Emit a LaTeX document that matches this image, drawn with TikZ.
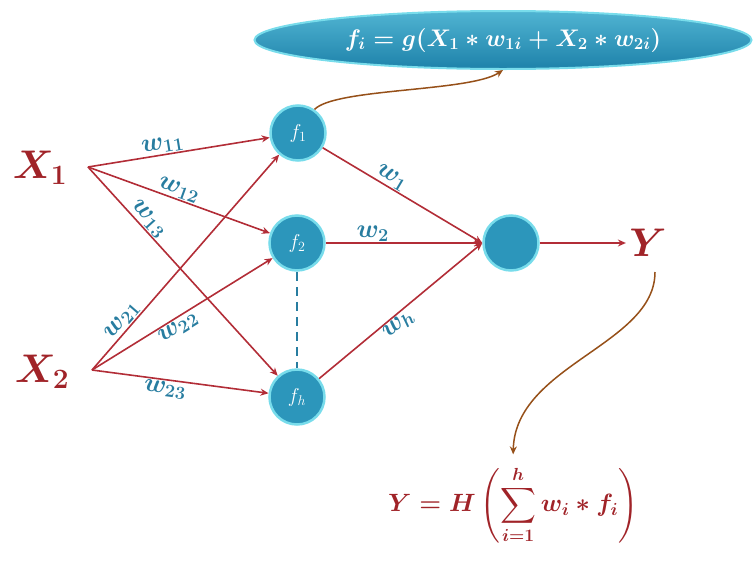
\RequirePackage{fix-cm}
\documentclass[tikz,border=0pt]{standalone}
\usepackage{amsmath}
\usepackage{bm}
\usetikzlibrary{shapes.geometric,arrows.meta}
\definecolor{dred}{RGB}{160,35,40}
\definecolor{lred}{RGB}{178,45,55}
\definecolor{tealc}{RGB}{44,150,187}
\definecolor{tealtop}{RGB}{80,180,210}
\definecolor{tealbot}{RGB}{30,130,170}
\definecolor{cyanb}{RGB}{120,220,235}
\definecolor{wtext}{RGB}{40,125,160}
\definecolor{brownc}{RGB}{150,80,25}
\begin{document}
\begin{tikzpicture}[x=1pt,y=-1pt,
  hid/.style={circle,minimum size=55pt,inner sep=0pt,fill=tealc,draw=cyanb,line width=2.5pt,text=white,font=\fontsize{20}{20}\selectfont},
  xin/.style={text=dred,font=\fontsize{40}{40}\selectfont\boldmath},
  conn/.style={draw=lred,line width=1.6pt,-{Stealth[length=8pt,width=7pt]}},
  wlab/.style={text=wtext,font=\fontsize{26}{26}\selectfont\boldmath,sloped,inner sep=1pt},
  bcurve/.style={draw=brownc,line width=1.5pt,-{Stealth[length=8pt,width=7pt]}}]
\useasboundingbox (0,0) rectangle (754,560);
% ellipse formula
\node[ellipse,minimum width=497pt,minimum height=58pt,top color=tealtop,bottom color=tealbot,draw=cyanb,line width=2pt,text=white,font=\fontsize{24}{24}\selectfont\boldmath] (ell) at (503,40) {$f_i = g(X_1 * w_{1i} + X_2 * w_{2i})$};
% inputs
\node[xin] (X1) at (40,168) {$X_1$};
\node[xin] (X2) at (42,372) {$X_2$};
\coordinate (x1p) at (88,167);
\coordinate (x2p) at (92,370);
% hidden
\node[hid] (f1) at (298,133) {$f_1$};
\node[hid] (f2) at (297,243) {$f_2$};
\node[hid] (fh) at (297,397) {$f_h$};
\node[hid] (out) at (511,243) {};
\node[xin] (Y) at (648,243) {$Y$};
% input connectors
\draw[conn] (x1p) -- node[wlab,above,pos=0.42] {$w_{11}$} (f1);
\draw[conn] (x1p) -- node[wlab,above,pos=0.48] {$w_{12}$} (f2);
\draw[conn] (x1p) -- node[wlab,above,pos=0.28] {$w_{13}$} (fh);
\draw[conn] (x2p) -- node[wlab,above,pos=0.2] {$w_{21}$} (f1);
\draw[conn] (x2p) -- node[wlab,below,pos=0.45] {$w_{22}$} (f2);
\draw[conn] (x2p) -- node[wlab,below,pos=0.42] {$w_{23}$} (fh);
% hidden to output
\draw[conn] (f1) -- node[wlab,above,pos=0.4] {$w_1$} (out.west);
\draw[conn] (f2) -- node[wlab,above,pos=0.3] {$w_2$} (out.west);
\draw[conn] (fh) -- node[wlab,below,pos=0.45] {$w_h$} (out.west);
\draw[conn] (out) -- (Y.west);
% dashed
\draw[wtext,line width=2pt,dash pattern=on 9pt off 6pt] (f2.south) -- (fh.north);
% brown curves
\draw[bcurve] (f1.55) .. controls (335,88) and (470,92) .. (ell.south);
\coordinate (ytail) at (655,272);
\node[text=dred,font=\fontsize{25}{25}\selectfont\boldmath] (form) at (513,505) {$Y = H\left(\displaystyle\sum_{i=1}^{h} w_i * f_i\right)$};
\draw[bcurve,shorten >=8pt] (ytail) .. controls (655,345) and (515,365) .. (form.north);
\end{tikzpicture}
\end{document}
